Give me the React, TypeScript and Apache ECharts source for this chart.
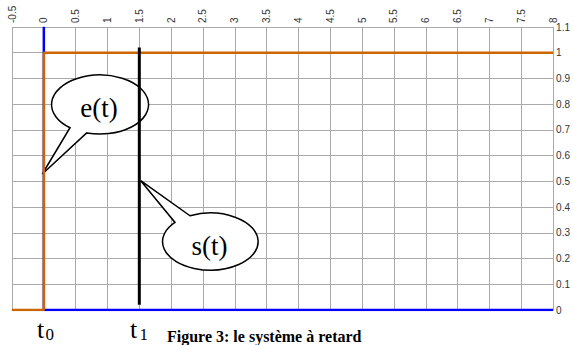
import React, { useEffect, useRef } from "react";
import * as echarts from "echarts";

// Time axis (top) and amplitude axis (right)
const xMin = -0.5;
const xMax = 8;
const xStep = 0.5;
const yMin = 0;
const yMax = 1.1;
const yStep = 0.1;

// Input step e(t): switches on at t0 = 0
const inputT = [-0.5, 0, 0, 8];
const inputV = [0, 0, 1, 1];

// Reference trace along the time origin and the zero level
const refT = [0, 0, 8];
const refV = [1.1, 0, 0];

// Instant t1 where s(t) starts
const markT = [1.5, 1.5];
const markV = [0.02, 1.02];

const pairs = (xs: number[], ys: number[]) => xs.map((x, i) => [x, ys[i]]);

// Speech-bubble outlines (ellipse + pointer) as SVG paths
const bubbleE = "M 86.7 132.9 A 48.5 29.5 0 1 0 70 127.7 L 42.3 174 Z";
const bubbleS = "M 175 222.4 A 47.8 28.5 0 1 0 190 215.8 L 140.7 180.7 Z";

echarts.graphic.registerShape("bubbleE", echarts.graphic.extendPath(bubbleE, {}));
echarts.graphic.registerShape("bubbleS", echarts.graphic.extendPath(bubbleS, {}));

const serif = "Liberation Serif";
const sans = "Liberation Sans";

const serifText = (text: string, x: number, y: number, size: number, extra: object = {}) => ({
  type: "text",
  x,
  y,
  z: 1,
  style: {
    text,
    fontFamily: serif,
    fontSize: size,
    fill: "#000000",
    verticalAlign: "middle",
    ...extra,
  },
});

export default function App() {
  const ref = useRef<HTMLDivElement>(null);

  useEffect(() => {
    if (!ref.current) return;
    const chart = echarts.init(ref.current, undefined, { renderer: "svg" });
    chart.setOption({
      animation: false,
      backgroundColor: "#ffffff",
      grid: { left: 12, right: 15, top: 27, bottom: 35 },
      xAxis: {
        type: "value",
        position: "top",
        min: xMin,
        max: xMax,
        interval: xStep,
        axisLine: { show: true, lineStyle: { color: "#aaaaaa", width: 1 } },
        axisTick: { show: false },
        axisLabel: {
          rotate: 90,
          margin: 4,
          fontSize: 10,
          color: "#333333",
          fontFamily: sans,
          showMinLabel: true,
          showMaxLabel: true,
        },
        splitLine: { show: true, lineStyle: { color: "#aaaaaa", width: 1 } },
      },
      yAxis: {
        type: "value",
        position: "right",
        min: yMin,
        max: yMax,
        interval: yStep,
        axisLine: { show: true, lineStyle: { color: "#c4c4c4", width: 2 } },
        axisTick: { show: false },
        axisLabel: {
          margin: 3,
          fontSize: 10,
          color: "#333333",
          fontFamily: sans,
          showMinLabel: true,
          showMaxLabel: true,
        },
        splitLine: { show: true, lineStyle: { color: "#aaaaaa", width: 1 } },
      },
      series: [
        {
          type: "line",
          data: pairs(refT, refV),
          showSymbol: false,
          lineStyle: { color: "#0000ff", width: 2.5 },
          z: 2,
        },
        {
          type: "line",
          data: pairs(inputT, inputV),
          showSymbol: false,
          lineStyle: { color: "#cc6600", width: 2.5 },
          z: 3,
        },
        {
          type: "line",
          data: pairs(markT, markV),
          showSymbol: false,
          lineStyle: { color: "#000000", width: 3 },
          z: 4,
        },
      ],
      graphic: [
        {
          type: "bubbleE",
          x: 0,
          y: 0,
          z: 1,
          style: { fill: "#ffffff", stroke: "#000000", lineWidth: 1.5 },
        },
        serifText("e(t)", 99, 108, 27, { align: "center" }),
        {
          type: "bubbleS",
          x: 0,
          y: 0,
          z: 1,
          style: { fill: "#ffffff", stroke: "#000000", lineWidth: 1.5 },
        },
        serifText("s(t)", 209.5, 246, 27, { align: "center" }),
        serifText("t", 37, 329, 26),
        serifText("0", 45.5, 334, 17),
        serifText("t", 130, 329, 26),
        serifText("1", 139.5, 334, 17),
        serifText("Figure 3: le système à retard", 167, 336, 16, { fontWeight: "bold" }),
      ],
    });
    return () => chart.dispose();
  }, []);

  return (
    <div
      ref={ref}
      style={{ position: "absolute", left: 0, top: 0, width: 573, height: 345 }}
    />
  );
}
